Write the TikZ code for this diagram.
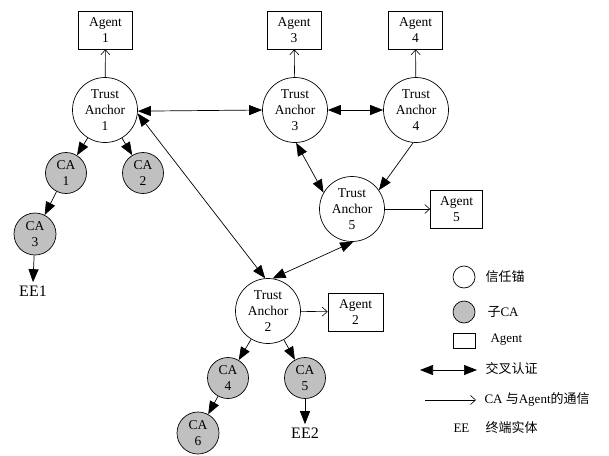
\documentclass[tikz,border=0pt]{standalone}
\usepackage{fontspec}
\setmainfont{Liberation Serif}
\newfontfamily\cjk{Noto Sans CJK SC}
\usetikzlibrary{arrows.meta}
\definecolor{cafill}{RGB}{192,192,192}
\begin{document}
\begin{tikzpicture}[x=1pt,y=-1pt,
  every node/.style={font=\fontsize{13.5}{16}\selectfont, align=center},
  anchorbox/.style={circle, draw, line width=0.7pt, fill=white, minimum size=65pt, inner sep=0pt},
  cabox/.style={circle, draw, line width=0.7pt, fill=cafill, minimum size=41pt, inner sep=0pt},
  agentbox/.style={rectangle, draw, line width=0.7pt, minimum width=54pt, minimum height=38pt, inner sep=0pt},
  cross/.style={line width=0.7pt, {Triangle[length=13pt,width=10pt]}-{Triangle[length=13pt,width=10pt]}},
  issue/.style={line width=0.7pt, -{Triangle[length=13pt,width=10pt]}},
  comm/.style={line width=0.6pt, -{Straight Barb[length=5pt,width=9pt]}},
  eetext/.style={font=\fontsize{16}{18}\selectfont},
  legtext/.style={anchor=west, font=\fontsize{13}{15}\selectfont}
]
\useasboundingbox (0,0) rectangle (609,455);

% trust anchors
\node[anchorbox] (ta1) at (105,110) {Trust\\Anchor\\1};
\node[anchorbox] (ta3) at (295,110) {Trust\\Anchor\\3};
\node[anchorbox] (ta4) at (416,110) {Trust\\Anchor\\4};
\node[anchorbox] (ta5) at (352,209) {Trust\\Anchor\\5};
\node[anchorbox] (ta2) at (268,311) {Trust\\Anchor\\2};

% agents
\node[agentbox] (ag1) at (105.5,30) {Agent\\1};
\node[agentbox] (ag3) at (294,30) {Agent\\3};
\node[agentbox] (ag4) at (415.5,30) {Agent\\4};
\node[agentbox, minimum width=52pt] (ag5) at (456.5,209) {Agent\\5};
\node[agentbox, minimum width=55pt] (ag2) at (355.5,312) {Agent\\2};

% subordinate CAs
\node[cabox] (ca1) at (66,173) {CA\\1};
\node[cabox] (ca2) at (143,173) {CA\\2};
\node[cabox, minimum size=42pt] (ca3) at (35,234) {CA\\3};
\node[cabox] (ca4) at (228,378) {CA\\4};
\node[cabox] (ca5) at (305,378) {CA\\5};
\node[cabox, minimum size=42pt] (ca6) at (198,433) {CA\\6};

% end entities
\node[eetext] (ee1) at (33,291) {EE1};
\node[eetext] (ee2) at (305,433) {EE2};

% anchor to agent communication
\draw[comm] (ta1) -- (ag1);
\draw[comm] (ta3) -- (ag3);
\draw[comm] (ta4) -- (ag4);
\draw[comm] (ta5) -- (ag5);
\draw[comm] (ta2) -- (ag2);

% cross certification
\draw[cross] (ta1.-2) -- (ta3.west);
\draw[cross] (ta3) -- (ta4);
\draw[cross] (ta1.-6) -- (ta2.95);
\draw[cross] (ta3.-88) -- (ta5.150);
\draw[issue] (ta4.-95) -- (ta5.35);
\draw[cross] (ta5.-88) -- (ta2.82);

% issuing hierarchy
\draw[issue] (ta1) -- (ca1);
\draw[issue] (ta1) -- (ca2);
\draw[issue] (ca1) -- (ca3);
\draw[issue] (ca3) -- (ee1.north);
\draw[issue] (ta2) -- (ca4);
\draw[issue] (ta2) -- (ca5);
\draw[issue] (ca4) -- (ca6);
\draw[issue] (ca5) -- (ee2.north);

% legend
\node[circle, draw, line width=0.7pt, minimum size=22pt, inner sep=0pt] (lg1) at (464,277) {};
\node[legtext] (lt1) at (482,277) {\cjk 信任锚};
\node[circle, draw, line width=0.7pt, fill=cafill, minimum size=22pt, inner sep=0pt] (lg2) at (464,312) {};
\node[legtext] (lt2) at (484,312) {\cjk 子\normalfont CA};
\node[rectangle, draw, line width=0.7pt, minimum width=22pt, minimum height=15pt, inner sep=0pt] (lg3) at (464,340.5) {};
\node[legtext] (lt3) at (487,340) {Agent};
\coordinate (la1) at (420,370);
\coordinate (la2) at (477,370);
\draw[cross] (la1) -- (la2);
\node[legtext] (lt4) at (482,369) {\cjk 交叉认证};
\coordinate (lb1) at (425,400);
\coordinate (lb2) at (476,400);
\draw[comm] (lb1) -- (lb2);
\node[legtext] (lt5) at (481,399) {CA {\cjk 与}Agent{\cjk 的通信}};
\node[legtext] (lt6) at (450,428) {EE};
\node[legtext] (lt7) at (482,428) {\cjk 终端实体};
\end{tikzpicture}
\end{document}
